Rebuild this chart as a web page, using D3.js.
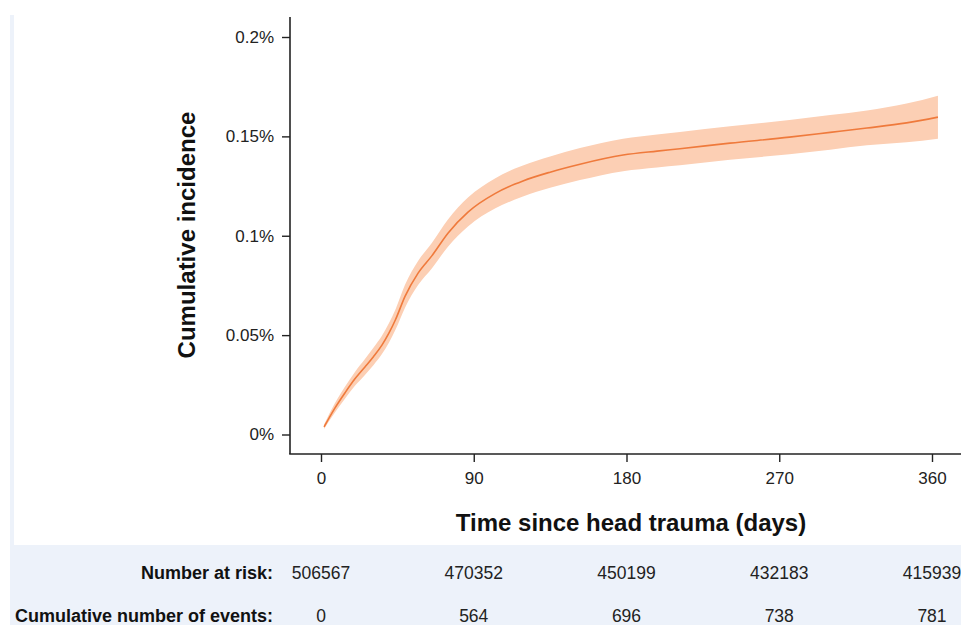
<!DOCTYPE html>
<html>
<head>
<meta charset="utf-8">
<script src="https://cdn.jsdelivr.net/npm/d3@7"></script>
<style>
  body { margin: 0; background: #fff; }
  svg { display: block; font-family: "Liberation Sans", Arial, sans-serif; }
</style>
</head>
<body>
<div id="wrapper"></div>
<script>
// data (days, cumulative incidence in %)
const days  = [0, 1.8, 8, 14.1, 20, 25.9, 31, 35.9, 40, 44, 49.5, 57.2, 65.4, 74.8, 86.6, 102.5, 114.3, 119, 135, 152.6, 178, 198, 211.5, 241, 276, 300, 321.7, 345, 363.5]
const est   = [0.0030, 0.0038, 0.0130, 0.0209, 0.0280, 0.0340, 0.0393, 0.0450, 0.0510, 0.0580, 0.0695, 0.0812, 0.0900, 0.1013, 0.1119, 0.1212, 0.1260, 0.1276, 0.1320, 0.1360, 0.1406, 0.1426, 0.1438, 0.1466, 0.1496, 0.1520, 0.1542, 0.1568, 0.1597]
const lower = [0.0022, 0.0028, 0.0108, 0.0180, 0.0245, 0.0300, 0.0350, 0.0405, 0.0462, 0.0529, 0.0638, 0.0752, 0.0837, 0.0945, 0.1047, 0.1137, 0.1182, 0.1198, 0.1241, 0.1280, 0.1325, 0.1344, 0.1355, 0.1382, 0.1410, 0.1433, 0.1455, 0.1470, 0.1488]
const upper = [0.0040, 0.0050, 0.0155, 0.0240, 0.0315, 0.0380, 0.0438, 0.0497, 0.0560, 0.0632, 0.0753, 0.0873, 0.0965, 0.1082, 0.1192, 0.1288, 0.1338, 0.1354, 0.1399, 0.1441, 0.1488, 0.1509, 0.1522, 0.1551, 0.1582, 0.1607, 0.1630, 0.1665, 0.1705]

const xTicks = [0, 90, 180, 270, 360]
const yTicks = [0, 0.05, 0.1, 0.15, 0.2]
const atRisk = [506567, 470352, 450199, 432183, 415939]
const events = [0, 564, 696, 738, 781]

const width = 961
const height = 625

const svg = d3.select("#wrapper")
  .append("svg")
    .attr("width", width)
    .attr("height", height)

// background panels
svg.append("rect")
  .attr("x", 10).attr("y", 15)
  .attr("width", width - 10).attr("height", height - 15)
  .attr("fill", "#edf2fa")
svg.append("rect")
  .attr("x", 14).attr("y", 15)
  .attr("width", width - 14).attr("height", 530)
  .attr("fill", "#fff")

// scales
const xScale = d3.scaleLinear().domain([0, 360]).range([321, 932])
const yScale = d3.scaleLinear().domain([0, 0.2]).range([434.5, 37])

const data = days.map((d, i) => ({ day: d, est: est[i], lo: lower[i], hi: upper[i] }))
  .filter(d => d.day > 0)

// confidence band
const area = d3.area()
  .x(d => xScale(d.day))
  .y0(d => yScale(d.lo))
  .y1(d => yScale(d.hi))
  .curve(d3.curveMonotoneX)

svg.append("path")
  .attr("d", area(data))
  .attr("fill", "#fccfb4")

// estimate line
const line = d3.line()
  .x(d => xScale(d.day))
  .y(d => yScale(d.est))
  .curve(d3.curveMonotoneX)

svg.append("path")
  .attr("d", line(data))
  .attr("fill", "none")
  .attr("stroke", "#ef7a3c")
  .attr("stroke-width", 1.6)

// axes
const axisColor = "#222"

const yAxis = svg.append("g")
  .attr("transform", "translate(290,0)")
  .call(d3.axisLeft(yScale).tickValues(yTicks).tickSize(8).tickPadding(8)
    .tickFormat(d => d3.format("~g")(d) + "%"))
yAxis.select(".domain").remove()

const xAxis = svg.append("g")
  .attr("transform", "translate(0,454)")
  .call(d3.axisBottom(xScale).tickValues(xTicks).tickSize(8).tickPadding(10))
xAxis.select(".domain").remove()

svg.selectAll(".tick line").attr("stroke", axisColor).attr("stroke-width", 1.4)
svg.selectAll(".tick text")
  .attr("fill", "#222")
  .style("font-size", "17px")
  .style("font-family", "Liberation Sans, Arial, sans-serif")

svg.append("line")
  .attr("x1", 290).attr("x2", 290)
  .attr("y1", 17).attr("y2", 454)
  .attr("stroke", axisColor).attr("stroke-width", 1.6)
svg.append("line")
  .attr("x1", 289.2).attr("x2", width)
  .attr("y1", 454).attr("y2", 454)
  .attr("stroke", axisColor).attr("stroke-width", 1.6)

// axis titles
svg.append("text")
  .attr("x", 631).attr("y", 531)
  .attr("text-anchor", "middle")
  .style("font-size", "24px").style("font-weight", "bold")
  .attr("fill", "#111")
  .text("Time since head trauma (days)")

svg.append("text")
  .attr("transform", "translate(195,235) rotate(-90)")
  .attr("text-anchor", "middle")
  .style("font-size", "24px").style("font-weight", "bold")
  .attr("fill", "#111")
  .text("Cumulative incidence")

// risk table
const rows = [
  { label: "Number at risk:", values: atRisk, y: 579 },
  { label: "Cumulative number of events:", values: events, y: 622 },
]

rows.forEach(r => {
  svg.append("text")
    .attr("x", 273).attr("y", r.y)
    .attr("text-anchor", "end")
    .style("font-size", "18px").style("font-weight", "bold")
    .attr("fill", "#111")
    .text(r.label)
  svg.selectAll(null)
    .data(r.values)
    .join("text")
      .attr("x", (d, i) => xScale(xTicks[i]))
      .attr("y", r.y)
      .attr("text-anchor", "middle")
      .style("font-size", "17.5px")
      .attr("fill", "#222")
      .text(d => d)
})
</script>
</body>
</html>
